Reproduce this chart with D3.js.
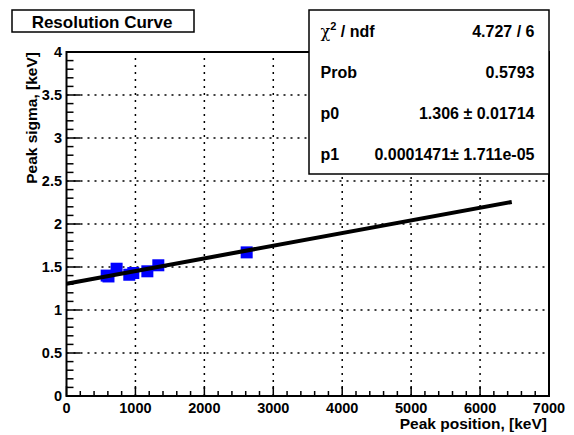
<!DOCTYPE html>
<html>
<head>
<meta charset="utf-8">
<script src="https://cdn.jsdelivr.net/npm/d3@7"></script>
<style>
  html, body { margin: 0; padding: 0; background: #fff; }
  svg { display: block; }
  text { font-family: "Liberation Sans", Arial, Helvetica, sans-serif; font-weight: bold; fill: #000; }
</style>
</head>
<body>
<div id="chart"></div>
<script>
// ---- data ----
const peakPositions = [583, 609, 727, 911, 969, 1173, 1332, 2614];
const peakSigmas    = [1.40, 1.39, 1.48, 1.41, 1.43, 1.45, 1.52, 1.67];
const fitP0 = 1.306;
const fitP1 = 0.0001471;
const fitRange = [0, 6460];
const xTicks = [0, 1000, 2000, 3000, 4000, 5000, 6000, 7000];
const xTickLabels = ["0", "1000", "2000", "3000", "4000", "5000", "6000", "7000"];
const yTicks = [0, 0.5, 1, 1.5, 2, 2.5, 3, 3.5, 4];
const yTickLabels = ["0", "0.5", "1", "1.5", "2", "2.5", "3", "3.5", "4"];
const statNames  = ["ndf", "Prob", "p0", "p1"];
const statValues = ["4.727 / 6", "0.5793", "1.306 \u00b1 0.01714", "0.0001471\u00b1 1.711e-05"];
const titleText = "Resolution Curve";
const xTitle = "Peak position, [keV]";
const yTitle = "Peak sigma, [keV]";

// ---- layout ----
const W = 574, H = 435;
const L = 66.5, R = 549, T = 52, B = 396;

const svg = d3.select("#chart").append("svg").attr("width", W).attr("height", H);

const x = d3.scaleLinear().domain([0, 7000]).range([L, R]);
const y = d3.scaleLinear().domain([0, 4]).range([B, T]);

// grid
const g = svg.append("g");
g.selectAll("line.gx").data(xTicks.slice(1, -1)).enter().append("line")
  .attr("x1", d => x(d)).attr("x2", d => x(d)).attr("y1", B).attr("y2", T)
  .attr("stroke", "#000").attr("stroke-width", 1.5).attr("stroke-dasharray", "2,5");
g.selectAll("line.gy").data(yTicks.slice(1, -1)).enter().append("line")
  .attr("y1", d => y(d)).attr("y2", d => y(d)).attr("x1", L).attr("x2", R)
  .attr("stroke", "#000").attr("stroke-width", 1.5).attr("stroke-dasharray", "2,5");

// minor ticks
const xMinor = d3.range(0, 7001, 200);
const yMinor = d3.range(0, 4.001, 0.1);
g.selectAll("line.xm").data(xMinor).enter().append("line")
  .attr("x1", d => x(d)).attr("x2", d => x(d)).attr("y1", B).attr("y2", d => B - (d % 1000 === 0 ? 10 : 5))
  .attr("stroke", "#000").attr("stroke-width", 1.5);
g.selectAll("line.ym").data(yMinor).enter().append("line")
  .attr("y1", d => y(d)).attr("y2", d => y(d)).attr("x1", L)
  .attr("x2", (d, i) => L + (i % 5 === 0 ? 14 : 7))
  .attr("stroke", "#000").attr("stroke-width", 1.5);

// data points
g.selectAll("rect.pt").data(peakPositions).enter().append("rect")
  .attr("x", d => x(d) - 6).attr("y", (d, i) => y(peakSigmas[i]) - 6)
  .attr("width", 12).attr("height", 12).attr("fill", "#0000ff");

// fit line
g.append("line")
  .attr("x1", x(fitRange[0])).attr("y1", y(fitP0 + fitP1 * fitRange[0]))
  .attr("x2", x(fitRange[1])).attr("y2", y(fitP0 + fitP1 * fitRange[1]))
  .attr("stroke", "#000").attr("stroke-width", 4);

// frame
g.append("rect").attr("x", L).attr("y", T).attr("width", R - L).attr("height", B - T)
  .attr("fill", "none").attr("stroke", "#000").attr("stroke-width", 2);

// tick labels
g.selectAll("text.xl").data(xTicks).enter().append("text")
  .attr("x", d => x(d)).attr("y", 413).attr("text-anchor", "middle")
  .style("font-size", "14.5px").text((d, i) => xTickLabels[i]);
g.selectAll("text.yl").data(yTicks).enter().append("text")
  .attr("x", 62).attr("y", d => y(d) + 5).attr("text-anchor", "end")
  .style("font-size", "14.5px").text((d, i) => yTickLabels[i]);

// axis titles
svg.append("text").attr("x", 547).attr("y", 428.5).attr("text-anchor", "end")
  .style("font-size", "15.5px").text(xTitle);
svg.append("text").attr("transform", `translate(36.5,${T}) rotate(-90)`).attr("text-anchor", "end")
  .style("font-size", "15.5px").text(yTitle);

// title box
svg.append("rect").attr("x", 12).attr("y", 10).attr("width", 182).attr("height", 22)
  .attr("fill", "#fff").attr("stroke", "#000").attr("stroke-width", 1.5);
svg.append("text").attr("x", 102).attr("y", 28).attr("text-anchor", "middle")
  .style("font-size", "17px").text(titleText);

// stats box
svg.append("rect").attr("x", 309).attr("y", 10).attr("width", 240).attr("height", 164)
  .attr("fill", "#fff").attr("stroke", "#000").attr("stroke-width", 1.5);
const rowY = [37, 78, 119, 160];
statNames.forEach((n, i) => {
  const t = svg.append("text").attr("x", 320.5).attr("y", rowY[i]).style("font-size", "16px");
  if (i === 0) {
    t.append("tspan").style("font-weight", "normal").style("font-family", "'DejaVu Serif', serif").text("\u03c7");
    t.append("tspan").attr("dy", -7).style("font-size", "11px").text("2");
    t.append("tspan").attr("dy", 7).text(" / " + n);
  } else {
    t.text(n);
  }
  svg.append("text").attr("x", 534.5).attr("y", rowY[i]).attr("text-anchor", "end")
    .style("font-size", "16px").text(statValues[i]);
});
</script>
</body>
</html>
